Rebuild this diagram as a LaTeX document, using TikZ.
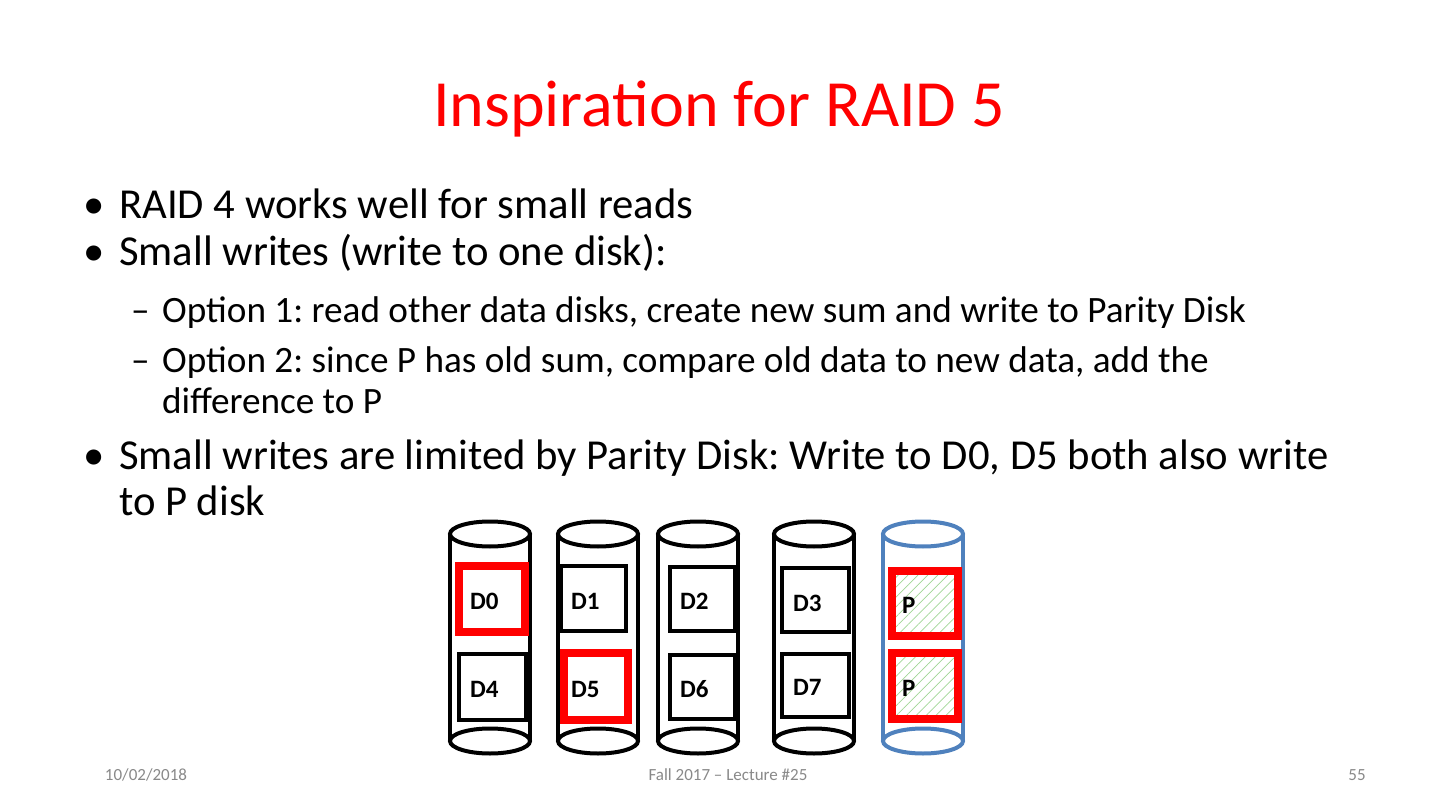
\documentclass[tikz,border=0pt]{standalone}
\usepackage{fontspec}
\setmainfont{Carlito}
\frenchspacing
\usetikzlibrary{patterns.meta}
\definecolor{titlered}{RGB}{255,0,0}
\definecolor{diskblue}{RGB}{79,129,189}
\definecolor{footgray}{RGB}{137,137,137}
\definecolor{hatchgreen}{RGB}{160,215,150}
\tikzset{
  txt/.style={inner sep=0pt, anchor=base west},
  titletxt/.style={inner sep=0pt, anchor=base, text=titlered, font=\fontsize{66}{79}\selectfont},
  body/.style={txt, font=\fontsize{42.7}{51}\selectfont},
  sub/.style={txt, font=\fontsize{37.2}{45}\selectfont},
  foot/.style={inner sep=0pt, anchor=base, text=footgray, font=\fontsize{17}{20}\selectfont},
  cyl/.style={line width=4pt},
  dbox/.style={draw=black, line width=3.5pt, fill=white, inner sep=0pt},
  rbox/.style={draw=red, line width=8pt, fill=white, inner sep=0pt},
  pbox/.style={preaction={fill=white}, preaction={pattern={Lines[angle=45,distance=7pt,line width=0.7pt]}, pattern color=hatchgreen}, draw=red, line width=8pt, inner sep=0pt},
  lab/.style={txt, font=\bfseries\fontsize{25}{30}\selectfont}
}
\begin{document}
\begin{tikzpicture}[x=1pt,y=-1pt]
\useasboundingbox (0,0) rectangle (1440,810);
\fill[white] (0,0) rectangle (1440,810);
% title
\node[titletxt] (title) at (719,127) {Inspiration for RAID 5};
% bullets
\node[body] (k1) at (83,219) {•};
\node[body] (b1) at (119,219) {RAID 4 works well for small reads};
\node[body] (k2) at (83,266) {•};
\node[body] (b2) at (119,266) {Small writes (write to one disk):};
\node[sub] (s1d) at (131,323) {–};
\node[sub] (s1) at (162,323) {Option 1: read other data disks, create new sum and write to Parity Disk};
\node[sub] (s2d) at (131,372) {–};
\node[sub] (s2) at (162,372) {Option 2: since P has old sum, compare old data to new data, add the};
\node[sub] (s2b) at (162,413) {difference to P};
\node[body] (k3) at (83,469) {•};
\node[body] (b3) at (119,469) {Small writes are limited by Parity Disk: Write to D0, D5 both also write};
\node[body] (b3b) at (119,515) {to P disk};
% cylinders
\foreach \c/\col [count=\i] in {490/black,598/black,698/black,814/black,923/diskblue}{
  \draw[cyl,draw=\col] (\c-40,534) -- (\c-40,741) (\c+40,534) -- (\c+40,741);
  \draw[cyl,draw=\col,fill=white] (\c,534) ellipse [x radius=40pt, y radius=12.5pt];
  \draw[cyl,draw=\col,fill=white] (\c,741) ellipse [x radius=40pt, y radius=12.5pt];
}
% boxes
\node[rbox, minimum width=66pt, minimum height=66pt] (bd0) at (492,599) {};
\node[dbox, minimum width=67pt, minimum height=66pt] (bd4) at (492.5,687) {};
\node[dbox, minimum width=65pt, minimum height=65pt] (bd1) at (593.5,598.5) {};
\node[rbox, minimum width=64pt, minimum height=67pt] (bd5) at (596,686.5) {};
\node[dbox, minimum width=65pt, minimum height=64pt] (bd2) at (702.5,599) {};
\node[dbox, minimum width=65pt, minimum height=64pt] (bd6) at (702.5,687) {};
\node[dbox, minimum width=67pt, minimum height=64pt] (bd3) at (815.5,600) {};
\node[dbox, minimum width=67pt, minimum height=63pt] (bd7) at (815.5,685.5) {};
\node[pbox, minimum width=66pt, minimum height=65pt] (bp1) at (925,603.5) {};
\node[pbox, minimum width=66pt, minimum height=66pt] (bp2) at (925,686) {};
% labels
\node[lab] (l0) at (470,609) {D0};
\node[lab] (l1) at (571,609) {D1};
\node[lab] (l2) at (680,609) {D2};
\node[lab] (l3) at (793,611) {D3};
\node[lab] (lp1) at (902,613) {P};
\node[lab] (l4) at (470,697) {D4};
\node[lab] (l5) at (571,697) {D5};
\node[lab] (l6) at (680,697) {D6};
\node[lab] (l7) at (793,695) {D7};
\node[lab] (lp2) at (902,696) {P};
% footer
\node[foot] (f1) at (146,780) {10/02/2018};
\node[foot] (f2) at (728,780) {Fall 2017 – Lecture \#25};
\node[foot] (f3) at (1357,780) {55};
\end{tikzpicture}
\end{document}
